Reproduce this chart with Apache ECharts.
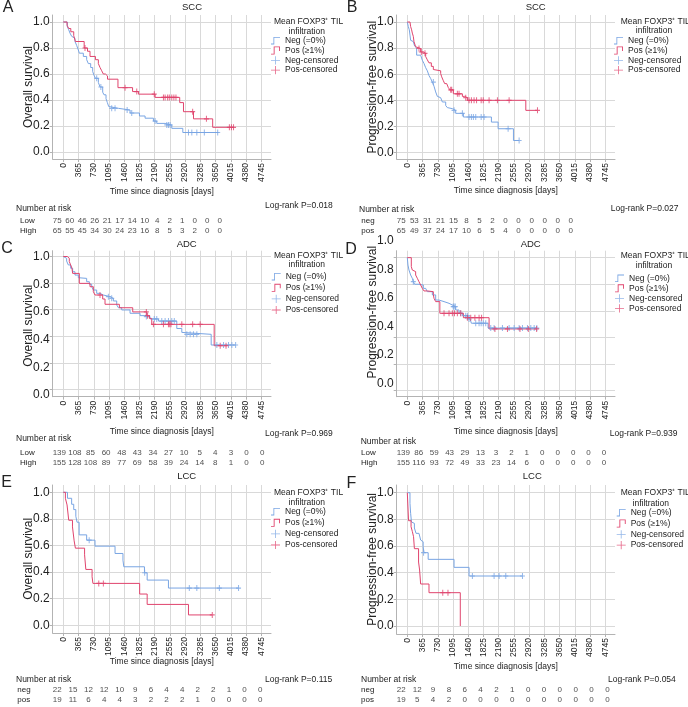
<!DOCTYPE html>
<html><head><meta charset="utf-8">
<script src="https://cdn.jsdelivr.net/npm/echarts@6/dist/echarts.min.js"></script>
<style>html,body{margin:0;padding:0;background:#fff}#c{width:688px;height:707px}</style>
</head><body><div id="c"></div>
<script>
// ---------------- data ----------------
const xTicks = [0,365,730,1095,1460,1825,2190,2555,2920,3285,3650,4015,4380,4745];
const yTicks = [0,0.2,0.4,0.6,0.8,1.0];
const xTitle = 'Time since diagnosis [days]';
const legendTitle1 = 'Mean FOXP3\u207A TIL';
const legendTitle2 = 'infiltration';
const seriesNames = ['Neg (=0%)','Pos (\u22651%)','Neg-censored','Pos-censored'];
const panelLetters = ['A','B','C','D','E','F'];
const panelTitles = ['SCC','SCC','ADC','ADC','LCC','LCC'];
const yTitles = ['Overall survival','Progression-free survival','Overall survival','Progression-free survival','Overall survival','Progression-free survival'];
const logRankTexts = ['Log-rank P=0.018','Log-rank P=0.027','Log-rank P=0.969','Log-rank P=0.939','Log-rank P=0.115','Log-rank P=0.054'];
const riskTitle = 'Number at risk';
const riskRowNames = [['Low','High'],['neg','pos'],['Low','High'],['Low','High'],['neg','pos'],['neg','pos']];

// A: SCC overall survival
const negA = [[0,1],[96,0.965],[130,0.94],[160,0.915],[200,0.89],[240,0.875],[280,0.85],[320,0.82],[360,0.785],[384,0.76],[480,0.735],[560,0.71],[600,0.68],[656,0.65],[704,0.62],[736,0.59],[770,0.567],[840,0.535],[880,0.5],[944,0.46],[976,0.44],[1024,0.41],[1056,0.38],[1088,0.35],[1120,0.336],[1320,0.323],[1600,0.3],[1825,0.277],[1960,0.26],[2160,0.238],[2240,0.22],[2440,0.208],[2600,0.182],[2864,0.15],[3720,0.15]];
const posA = [[0,1],[90,0.975],[130,0.95],[180,0.925],[250,0.895],[290,0.85],[500,0.8],[580,0.775],[640,0.735],[770,0.71],[840,0.68],[880,0.65],[920,0.625],[960,0.6],[1010,0.585],[1060,0.56],[1310,0.495],[1660,0.465],[1800,0.445],[2200,0.42],[2790,0.38],[2880,0.31],[3120,0.255],[3580,0.19],[4090,0.19]];
const negCensA = [[800,0.567],[900,0.5],[1160,0.336],[1240,0.336],[1530,0.323],[1640,0.3],[2200,0.238],[2480,0.208],[2520,0.208],[2560,0.208],[3000,0.15],[3080,0.15],[3200,0.15],[3380,0.15],[3700,0.15]];
const posCensA = [[520,0.8],[1480,0.495],[1760,0.465],[2180,0.445],[2400,0.42],[2440,0.42],[2500,0.42],[2540,0.42],[2600,0.42],[2650,0.42],[2700,0.42],[3100,0.31],[3430,0.255],[3980,0.19],[4030,0.19],[4080,0.19]];
const riskA = [[75,60,46,26,21,17,14,10,4,2,1,0,0,0],[65,55,45,34,30,24,23,16,8,5,3,2,0,0]];

// B: SCC progression-free survival
const negB = [[0,1],[24,0.965],[48,0.94],[64,0.9],[80,0.86],[120,0.85],[144,0.836],[176,0.815],[200,0.8],[224,0.746],[320,0.733],[360,0.707],[400,0.682],[440,0.65],[480,0.626],[520,0.59],[560,0.567],[600,0.54],[640,0.508],[680,0.464],[720,0.43],[760,0.42],[800,0.405],[840,0.387],[920,0.36],[960,0.344],[1000,0.336],[1080,0.323],[1160,0.3],[1344,0.272],[2016,0.233],[2176,0.182],[2544,0.092],[2680,0.092]];
const posB = [[0,1],[64,0.99],[80,0.965],[104,0.94],[120,0.915],[144,0.89],[160,0.85],[176,0.836],[200,0.81],[240,0.797],[320,0.77],[384,0.76],[440,0.735],[480,0.71],[520,0.687],[576,0.66],[624,0.636],[656,0.626],[800,0.605],[824,0.58],[864,0.55],[896,0.528],[944,0.515],[984,0.497],[1024,0.48],[1104,0.45],[1320,0.43],[1376,0.42],[1440,0.4],[2840,0.323],[3120,0.323]];
const negCensB = [[624,0.54],[1120,0.323],[1320,0.3],[1480,0.272],[1536,0.272],[1584,0.272],[1640,0.272],[1770,0.272],[1840,0.272],[2416,0.182],[2680,0.092]];
const posCensB = [[280,0.797],[336,0.77],[424,0.76],[1040,0.48],[1064,0.48],[1200,0.45],[1240,0.45],[1400,0.42],[1480,0.4],[1536,0.4],[1600,0.4],[1660,0.4],[1770,0.4],[1820,0.4],[1960,0.4],[2160,0.4],[2440,0.4],[3120,0.323]];
const riskB = [[75,53,31,21,15,8,5,2,0,0,0,0,0,0],[65,49,37,24,17,10,6,5,4,0,0,0,0,0]];

// C: ADC overall survival
const negC = [[0,1],[40,0.987],[80,0.967],[120,0.939],[176,0.915],[224,0.89],[280,0.866],[360,0.847],[400,0.842],[560,0.818],[624,0.8],[680,0.782],[720,0.758],[800,0.734],[880,0.722],[960,0.71],[1120,0.698],[1200,0.679],[1280,0.65],[1320,0.63],[1400,0.614],[1600,0.59],[1840,0.573],[1960,0.566],[2080,0.549],[2280,0.534],[2720,0.48],[2840,0.452],[2880,0.438],[3544,0.361],[4130,0.361]];
const posC = [[0,1],[96,0.987],[144,0.963],[176,0.939],[208,0.915],[224,0.878],[384,0.806],[640,0.782],[720,0.746],[760,0.722],[944,0.693],[1000,0.655],[1344,0.63],[1664,0.6],[2000,0.573],[2064,0.553],[2120,0.51],[3616,0.356],[3920,0.356]];
const negCensC = [[1080,0.71],[1160,0.698],[1990,0.566],[2180,0.549],[2240,0.549],[2360,0.534],[2440,0.534],[2520,0.534],[2600,0.534],[2660,0.534],[2960,0.438],[3040,0.438],[3120,0.438],[3200,0.438],[3680,0.361],[3840,0.361],[3960,0.361],[4040,0.361],[4130,0.361]];
const posCensC = [[880,0.722],[1990,0.6],[2020,0.573],[2160,0.51],[2400,0.51],[2520,0.51],[2550,0.51],[2580,0.51],[2840,0.51],[3100,0.51],[3280,0.51],[3760,0.356],[3900,0.356]];
const riskC = [[139,108,85,60,48,43,34,27,10,5,4,3,0,0],[155,128,108,89,77,69,58,39,24,14,8,1,0,0]];

// D: ADC progression-free survival
const negD = [[0,0.883],[16,0.831],[40,0.796],[80,0.761],[120,0.738],[144,0.714],[176,0.696],[280,0.691],[384,0.667],[440,0.656],[480,0.644],[600,0.621],[680,0.585],[760,0.574],[880,0.562],[1000,0.55],[1080,0.539],[1160,0.515],[1240,0.492],[1320,0.475],[1456,0.452],[1504,0.438],[1536,0.422],[1936,0.388],[3104,0.388]];
const posD = [[0,0.883],[96,0.82],[120,0.796],[160,0.785],[200,0.761],[240,0.738],[280,0.714],[320,0.691],[360,0.667],[400,0.649],[480,0.644],[624,0.625],[640,0.597],[680,0.574],[780,0.492],[1344,0.461],[1960,0.382],[3104,0.382]];
const negCensD = [[144,0.714],[1100,0.539],[1120,0.539],[1150,0.539],[1280,0.492],[1400,0.475],[1440,0.475],[1480,0.452],[1640,0.422],[1720,0.422],[1770,0.422],[1820,0.422],[1880,0.422],[2000,0.388],[2080,0.388],[2280,0.388],[2440,0.388],[2560,0.388],[2680,0.388],[2760,0.388],[2880,0.388],[2960,0.388],[3040,0.388],[3104,0.388]];
const posCensD = [[880,0.492],[1000,0.492],[1080,0.492],[1130,0.492],[1200,0.492],[1280,0.492],[1440,0.461],[1520,0.461],[1620,0.461],[1720,0.461],[1780,0.461],[2100,0.382],[2400,0.382],[2700,0.382],[2900,0.382],[3100,0.382]];
const riskD = [[139,86,59,43,29,13,3,2,1,0,0,0,0,0],[155,116,93,72,49,33,23,14,6,0,0,0,0,0]];

// E: LCC overall survival
const negE = [[0,1],[100,0.955],[200,0.91],[250,0.87],[300,0.82],[330,0.775],[380,0.68],[560,0.64],[760,0.595],[1240,0.54],[1430,0.49],[1450,0.44],[1945,0.395],[2010,0.34],[2520,0.28],[4200,0.28]];
const posE = [[0,1],[50,0.955],[90,0.905],[130,0.79],[220,0.74],[260,0.635],[290,0.58],[510,0.53],[540,0.42],[690,0.365],[710,0.315],[1830,0.235],[2010,0.157],[3000,0.078],[3570,0.078]];
const negCensE = [[620,0.64],[1950,0.395],[3020,0.28],[3200,0.28],[3740,0.28],[4200,0.28]];
const posCensE = [[850,0.315],[960,0.315],[3570,0.078]];
const riskE = [[22,15,12,12,10,9,6,4,4,2,2,1,0,0],[19,11,6,4,4,3,2,2,2,1,0,0,0,0]];

// F: LCC progression-free survival
const negF = [[0,1],[64,0.92],[80,0.845],[100,0.78],[130,0.77],[170,0.735],[210,0.695],[280,0.68],[320,0.645],[350,0.632],[380,0.595],[400,0.55],[500,0.5],[1120,0.44],[1480,0.375],[2760,0.375]];
const posF = [[0,1],[30,0.79],[90,0.745],[120,0.71],[150,0.67],[170,0.58],[270,0.48],[295,0.42],[320,0.315],[520,0.25],[1270,0]];
const negCensF = [[390,0.55],[1560,0.375],[2080,0.375],[2200,0.375],[2360,0.375],[2760,0.375]];
const posCensF = [[850,0.25],[975,0.25]];
const riskF = [[22,12,9,8,6,4,2,1,0,0,0,0,0,0],[19,5,4,2,0,0,0,0,0,0,0,0,0,0]];

const panelData = [
  [negA,posA,negCensA,posCensA,riskA],
  [negB,posB,negCensB,posCensB,riskB],
  [negC,posC,negCensC,posCensC,riskC],
  [negD,posD,negCensD,posCensD,riskD],
  [negE,posE,negCensE,posCensE,riskE],
  [negF,posF,negCensF,posCensF,riskF]
];

// ---------------- layout (pixels) ----------------
const layout = [
 {left:52.7, ft:15, fb:159, g1:22, g0:152, l1:22, l0:152, xng:28.2, letter:[8,8], title:[192,7], h1:[274,21.7], h2:[306.7,31.7], legX:271, legY:40.7, legGap:0.8, nar:[16,208.7], lr:[265,206], rk:{c0:57.3,s:12.5,r0:220.7,d:9.8,lab:20}},
 {left:396.7, ft:15, fb:159, g1:22, g0:152.5, l1:22, l0:152.5, xng:27.2, letter:[352,8], title:[535.7,7], h1:[620.7,21.7], h2:[654,30.7], legX:614, legY:40.7, legGap:0.8, nar:[359,210], lr:[610.7,208.3], rk:{c0:401.3,s:13.03,r0:220.7,d:9.8,lab:361.3}},
 {left:52.7, ft:250.7, fb:396.7, g1:256.3, g0:389.5, l1:256.5, l0:395, xng:30.5, letter:[7,249], title:[186.7,244], h1:[274,256], h2:[306.7,265], legX:271.7, legY:276.7, legGap:2.1, nar:[16,438.3], lr:[265,433.3], rk:{c0:59.3,s:15.6,r0:452.7,d:10,lab:20}},
 {left:396.7, ft:250.7, fb:396.7, g1:257.7, g0:390.7, l1:241, l0:383.3, xng:30.5, letter:[351,249.5], title:[530.7,244], h1:[620.7,256], h2:[654,266], legX:615, legY:278.3, legGap:1, nar:[360.7,441.7], lr:[609.7,434], rk:{c0:403.3,s:15.44,r0:452.7,d:10,lab:361}},
 {left:52.7, ft:485, fb:633, g1:492.3, g0:625.3, l1:492.3, l0:625.3, xng:24.2, letter:[6.7,482.5], title:[186.7,476.7], h1:[274,492.3], h2:[306.7,502.7], legX:271, legY:511.7, legGap:2.1, nar:[16,680], lr:[265,680], rk:{c0:57.3,s:15.6,r0:690,d:9.3,lab:17.3}},
 {left:396.7, ft:485, fb:634, g1:492.7, g0:626, l1:492.7, l0:626, xng:28.2, letter:[351.5,484], title:[532.3,476.7], h1:[620.7,492.7], h2:[650.7,503.3], legX:616.7, legY:512.7, legGap:1.8, nar:[361,680], lr:[608,680], rk:{c0:401.3,s:15.85,r0:690,d:9.3,lab:361}}
];

// ---------------- styles ----------------
const FONT = '"Liberation Sans", Arial, Helvetica, sans-serif';
const COL_NEG = '#79a5e3', COL_POS = '#e0446d';
const GRID_C = '#d9d9d9', AXIS_C = '#b3b3b3', TXT = '#222';
const PLOT_W = 218.3, ZERO_OFF = 10.6, DAYS_PER_PX = 365/15.23;
const PLUS = 'path://M2,0H3V2H5V3H3V5H2V3H0V2H2Z';
const STEP_NEG = 'path://M0,9H3V1H11V2H4V10H0Z';
const STEP_POS = 'path://M0,9H3V1H10V6H9V2H4V10H0Z';
const PLUS_LEG = 'path://M5,0H6V4.5H11V5.5H6V10H5V5.5H0V4.5H5Z';

const grids=[], xAxes=[], yAxes=[], series=[], graphics=[], legends=[];
function txt(x,y,text,size,align){
  graphics.push({type:'text', x:x, y:y, silent:true, style:{text:text, fontSize:size, fontFamily:FONT, fill:TXT, align:align||'left', verticalAlign:'middle'}});
}

layout.forEach((g,i)=>{
  const [neg,pos,negC,posC,risk] = panelData[i];
  const xMin = -ZERO_OFF*DAYS_PER_PX, xMax = xMin + PLOT_W*DAYS_PER_PX;
  const span = g.g0 - g.g1;
  // frame grid (grid lines, axes lines, x labels)
  const gf = grids.length;
  grids.push({left:g.left, top:g.ft, width:PLOT_W, height:g.fb-g.ft});
  xAxes.push({gridIndex:gf, type:'value', min:xMin, max:xMax,
    axisLine:{show:true, onZero:false, lineStyle:{color:AXIS_C, width:1}},
    axisTick:{show:true, customValues:xTicks, length:3, lineStyle:{color:AXIS_C}},
    axisLabel:{show:true, customValues:xTicks, rotate:90, fontSize:8.5, color:TXT, margin:4, fontFamily:FONT, formatter:v=>String(Math.round(v))},
    splitLine:{show:true, lineStyle:{color:GRID_C, width:1}},
    name:xTitle, nameLocation:'middle', nameGap:g.xng, nameMoveOverlap:false, nameTextStyle:{fontSize:8.5, color:TXT, fontFamily:FONT}});
  yAxes.push({gridIndex:gf, type:'value', min:-(g.fb-g.g0)/span, max:1+(g.g1-g.ft)/span,
    axisLine:{show:true, onZero:false, lineStyle:{color:AXIS_C, width:1}},
    axisTick:{show:true, customValues:yTicks, length:3, lineStyle:{color:AXIS_C}},
    axisLabel:{show:false},
    splitLine:{show:true, lineStyle:{color:GRID_C, width:1}}});
  // data grid (y labels + curves)
  const gd = grids.length;
  grids.push({left:g.left, top:g.l1, width:PLOT_W, height:g.l0-g.l1});
  xAxes.push({gridIndex:gd, type:'value', min:xMin, max:xMax, show:false});
  yAxes.push({gridIndex:gd, type:'value', min:0, max:1, interval:0.2,
    axisLine:{show:false}, axisTick:{show:false}, splitLine:{show:false},
    axisLabel:{fontSize:12, color:TXT, margin:3, fontFamily:FONT, formatter:v=>v.toFixed(1)},
    name:yTitles[i], nameLocation:'middle', nameGap:18, nameMoveOverlap:false, nameTextStyle:{fontSize:12, color:TXT, fontFamily:FONT}});
  const common = {xAxisIndex:gd, yAxisIndex:gd, clip:false, silent:true, animation:false};
  series.push(Object.assign({type:'line', name:seriesNames[0], data:neg, step:'end', symbol:'none', lineStyle:{color:COL_NEG, width:1}, itemStyle:{color:COL_NEG}, z:3}, common));
  series.push(Object.assign({type:'line', name:seriesNames[1], data:pos, step:'end', symbol:'none', lineStyle:{color:COL_POS, width:1}, itemStyle:{color:COL_POS}, z:4}, common));
  series.push(Object.assign({type:'scatter', name:seriesNames[2], data:negC, symbol:PLUS, symbolSize:[5,6], itemStyle:{color:COL_NEG}, z:5}, common));
  series.push(Object.assign({type:'scatter', name:seriesNames[3], data:posC, symbol:PLUS, symbolSize:[5,6], itemStyle:{color:COL_POS}, z:6}, common));
  // risk table grid
  const rk = g.rk, gr = grids.length;
  const rLeft = rk.c0 - rk.s/2;
  grids.push({left:rLeft, top:rk.r0 - rk.d/2, width:rk.s*14, height:rk.d*2});
  xAxes.push({gridIndex:gr, type:'category', data:xTicks.map(String), show:false});
  yAxes.push({gridIndex:gr, type:'category', data:riskRowNames[i], inverse:true,
    axisLine:{show:false}, axisTick:{show:false}, splitLine:{show:false},
    axisLabel:{interval:0, align:'left', margin:rLeft-rk.lab, fontSize:8, color:TXT, fontFamily:FONT}});
  const rdata = [];
  risk.forEach((row,ri)=>row.forEach((v,ci)=>rdata.push([ci,ri,v])));
  series.push({type:'scatter', name:'risk'+i, xAxisIndex:gr, yAxisIndex:gr, data:rdata, symbolSize:2, itemStyle:{color:'rgba(255,255,255,0)'}, silent:true, animation:false, z:10,
    label:{show:true, position:'inside', formatter:p=>String(p.value[2]), fontSize:8, color:TXT, fontFamily:FONT}});
  // legend
  legends.push({left:g.legX, top:g.legY-4.5, orient:'vertical', itemWidth:9, itemHeight:9, itemGap:g.legGap, selectedMode:false, padding:0,
    itemStyle:{borderWidth:0}, lineStyle:{width:0},
    textStyle:{fontSize:8.5, color:TXT, fontFamily:FONT, lineHeight:9},
    data:[{name:seriesNames[0], icon:STEP_NEG},{name:seriesNames[1], icon:STEP_POS},{name:seriesNames[2], icon:PLUS_LEG},{name:seriesNames[3], icon:PLUS_LEG}]});
  // texts
  txt(g.letter[0], g.letter[1], panelLetters[i], 16, 'center');
  txt(g.title[0], g.title[1], panelTitles[i], 9.5, 'center');
  txt(g.h1[0], g.h1[1], legendTitle1, 8.5, 'left');
  txt(g.h2[0], g.h2[1], legendTitle2, 8.5, 'center');
  txt(g.nar[0], g.nar[1], riskTitle, 8.5, 'left');
  txt(g.lr[0], g.lr[1], logRankTexts[i], 8.5, 'left');
});

const chart = echarts.init(document.getElementById('c'), null, {width:688, height:707});
chart.setOption({
  animation:false,
  backgroundColor:'#ffffff',
  textStyle:{fontFamily:FONT},
  grid:grids, xAxis:xAxes, yAxis:yAxes, series:series, legend:legends,
  graphic:{elements:graphics}
});
</script>
</body></html>
